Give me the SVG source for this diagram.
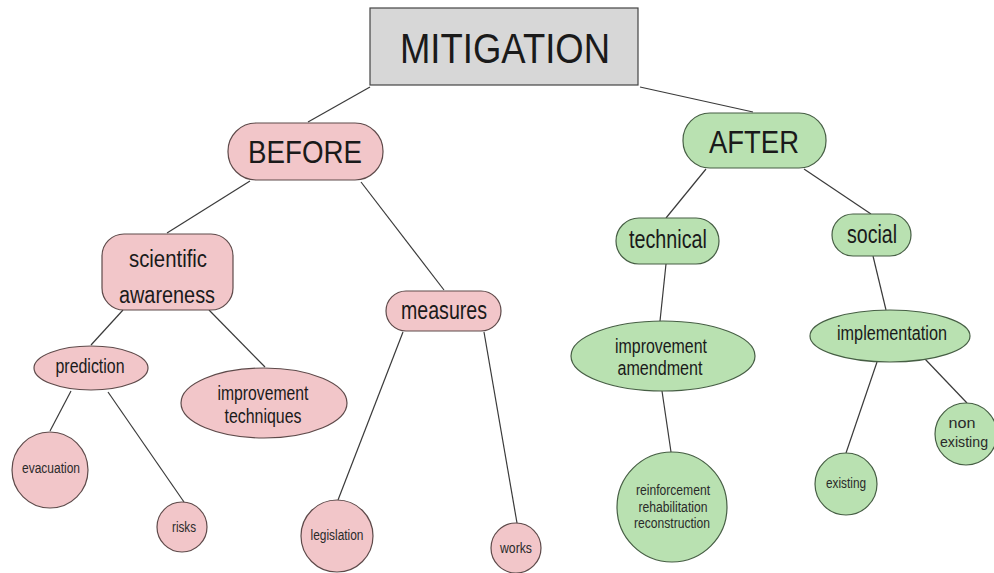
<svg xmlns="http://www.w3.org/2000/svg" width="994" height="573" viewBox="0 0 994 573">
<style>
text{font-family:"Liberation Sans",Arial,sans-serif;fill:#1a1a1a;text-anchor:middle}
.c line{stroke:#3a3a3a;stroke-width:1.2}
.p{fill:#f2c6c9;stroke:#5e4a4a;stroke-width:1.2}
.g{fill:#b9e1b1;stroke:#465e44;stroke-width:1.2}
.root{fill:#d7d7d7;stroke:#444;stroke-width:1.2}
.s{font-size:14px;fill:#2a2a2a}
.m{font-size:20px}
</style>
<rect width="994" height="573" fill="#fff"/>
<g id="connectors" class="c">
<line x1="370" y1="87" x2="308" y2="122"/>
<line x1="640" y1="87" x2="753" y2="112"/>
<line x1="250" y1="181" x2="167" y2="233"/>
<line x1="361" y1="182" x2="444" y2="290"/>
<line x1="123" y1="310" x2="91" y2="345"/>
<line x1="209" y1="310" x2="265" y2="367"/>
<line x1="71" y1="391" x2="50" y2="431"/>
<line x1="108" y1="392" x2="184" y2="502"/>
<line x1="403" y1="332" x2="338" y2="500"/>
<line x1="484" y1="332" x2="517" y2="523"/>
<line x1="706" y1="169" x2="666" y2="218"/>
<line x1="804" y1="169" x2="871" y2="214"/>
<line x1="666" y1="264" x2="660" y2="321"/>
<line x1="662" y1="391" x2="671" y2="452"/>
<line x1="873" y1="256" x2="886" y2="310"/>
<line x1="877" y1="362" x2="846" y2="453"/>
<line x1="925" y1="359" x2="967" y2="403"/>
</g>
<g id="mitigation">
<rect class="root" x="370" y="8" width="268" height="77"/>
<text x="505" y="63" font-size="43" textLength="210" lengthAdjust="spacingAndGlyphs">MITIGATION</text>
</g>
<g id="before">
<rect class="p" x="228" y="123" width="155" height="57" rx="28"/>
<text x="305" y="163" font-size="32" textLength="114" lengthAdjust="spacingAndGlyphs">BEFORE</text>
</g>
<g id="after">
<rect class="g" x="683" y="113" width="143" height="55" rx="27"/>
<text x="754" y="153" font-size="32" textLength="90" lengthAdjust="spacingAndGlyphs">AFTER</text>
</g>
<g id="scientific-awareness">
<rect class="p" x="102" y="234" width="131" height="76" rx="22"/>
<text x="168" y="267" font-size="23" textLength="78" lengthAdjust="spacingAndGlyphs">scientific</text>
<text x="167" y="303" font-size="23" textLength="96" lengthAdjust="spacingAndGlyphs">awareness</text>
</g>
<g id="measures">
<rect class="p" x="386" y="291" width="115" height="40" rx="20"/>
<text x="444" y="319" font-size="25" textLength="86" lengthAdjust="spacingAndGlyphs">measures</text>
</g>
<g id="technical">
<rect class="g" x="616" y="218" width="103" height="46" rx="23"/>
<text x="668" y="248" font-size="25" textLength="78" lengthAdjust="spacingAndGlyphs">technical</text>
</g>
<g id="social">
<rect class="g" x="832" y="214" width="79" height="42" rx="21"/>
<text x="872" y="243" font-size="25" textLength="50" lengthAdjust="spacingAndGlyphs">social</text>
</g>
<g id="prediction">
<ellipse class="p" cx="91" cy="368" rx="57" ry="22"/>
<text class="m" x="90" y="373" textLength="69" lengthAdjust="spacingAndGlyphs">prediction</text>
</g>
<g id="improvement-techniques">
<ellipse class="p" cx="264" cy="403" rx="83" ry="35"/>
<text class="m" x="263" y="400" textLength="91" lengthAdjust="spacingAndGlyphs">improvement</text>
<text class="m" x="263" y="423" textLength="77" lengthAdjust="spacingAndGlyphs">techniques</text>
</g>
<g id="improvement-amendment">
<ellipse class="g" cx="663" cy="356" rx="92" ry="35"/>
<text class="m" x="661" y="353" textLength="92" lengthAdjust="spacingAndGlyphs">improvement</text>
<text class="m" x="660" y="375" textLength="85" lengthAdjust="spacingAndGlyphs">amendment</text>
</g>
<g id="implementation">
<ellipse class="g" cx="890" cy="336" rx="80" ry="26"/>
<text class="m" x="892" y="340" textLength="110" lengthAdjust="spacingAndGlyphs">implementation</text>
</g>
<g id="evacuation">
<circle class="p" cx="50" cy="470" r="38"/>
<text class="s" x="51" y="473" textLength="58" lengthAdjust="spacingAndGlyphs">evacuation</text>
</g>
<g id="risks">
<circle class="p" cx="182" cy="527" r="25"/>
<text class="s" x="184" y="532" textLength="24" lengthAdjust="spacingAndGlyphs">risks</text>
</g>
<g id="legislation">
<circle class="p" cx="337" cy="536" r="36"/>
<text class="s" x="337" y="540" textLength="53" lengthAdjust="spacingAndGlyphs">legislation</text>
</g>
<g id="works">
<circle class="p" cx="516" cy="548" r="25"/>
<text class="s" x="516" y="553" textLength="32" lengthAdjust="spacingAndGlyphs">works</text>
</g>
<g id="reinforcement">
<circle class="g" cx="672" cy="507" r="55"/>
<text class="s" x="673" y="495" textLength="74" lengthAdjust="spacingAndGlyphs">reinforcement</text>
<text class="s" x="673" y="512" textLength="69" lengthAdjust="spacingAndGlyphs">rehabilitation</text>
<text class="s" x="672" y="528" textLength="76" lengthAdjust="spacingAndGlyphs">reconstruction</text>
</g>
<g id="existing">
<circle class="g" cx="846" cy="484" r="31"/>
<text class="s" x="846" y="488" textLength="40" lengthAdjust="spacingAndGlyphs">existing</text>
</g>
<g id="non-existing">
<circle class="g" cx="966" cy="434" r="31"/>
<text class="s" x="962" y="428" textLength="27" lengthAdjust="spacingAndGlyphs">non</text>
<text class="s" x="964" y="447" textLength="48" lengthAdjust="spacingAndGlyphs">existing</text>
</g>
</svg>
